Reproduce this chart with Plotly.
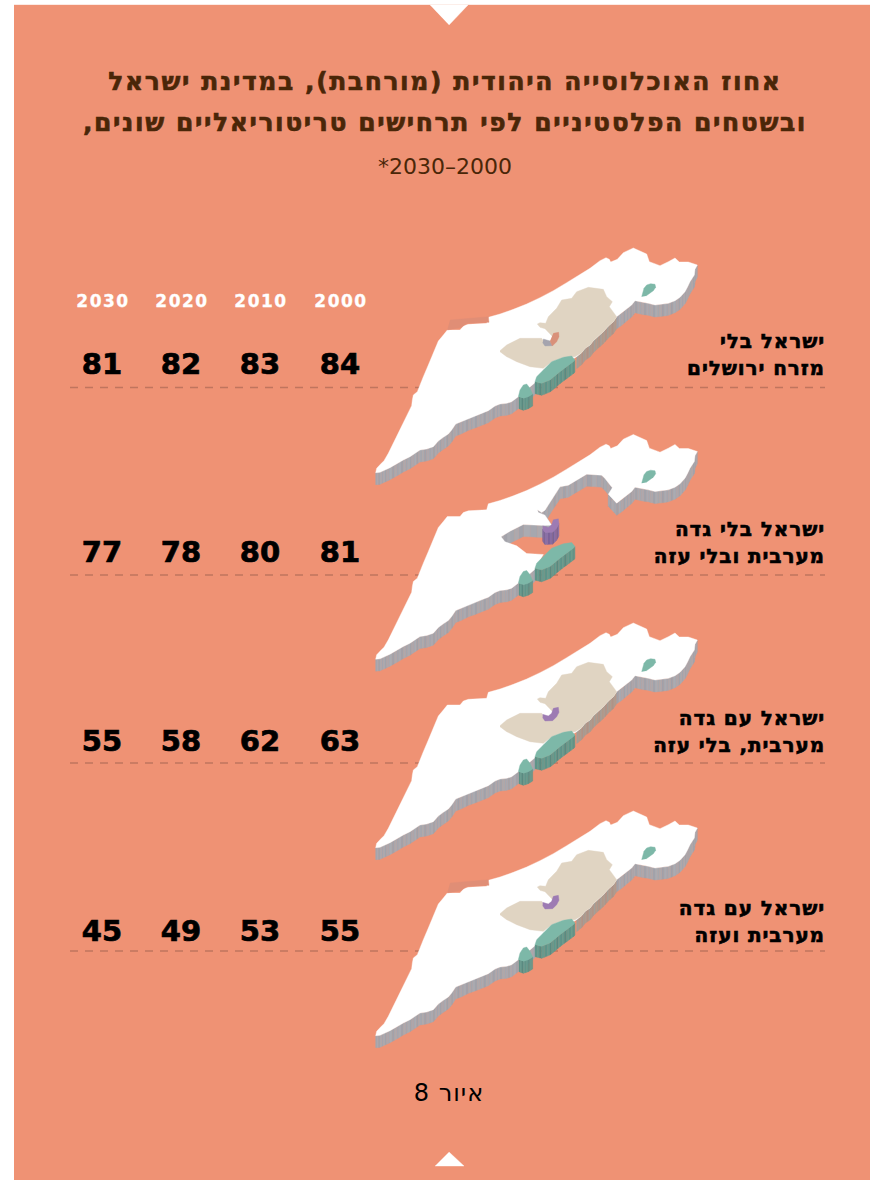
import plotly.graph_objects as go

# figures, columns run 2030 -> 2000 from the left
years = ["2030", "2020", "2010", "2000"]
no_east_jerusalem = [81, 82, 83, 84]
no_west_bank_gaza = [77, 78, 80, 81]
west_bank_no_gaza = [55, 58, 62, 63]
west_bank_and_gaza = [45, 49, 53, 55]

# scenario labels, two lines each
labels_1 = ["ישראל בלי", "ישראל בלי גדה", "ישראל עם גדה", "ישראל עם גדה"]
labels_2 = ["מזרח ירושלים", "מערבית ובלי עזה", "מערבית, בלי עזה", "מערבית ועזה"]

coast_south = [(47, 698), (60, 697), (75, 690), (90, 683), (110, 672), (130, 660), (150, 650), (165, 640),
               (180, 630), (200, 627), (220, 620), (235, 603), (250, 592), (265, 582), (275, 570), (287, 552),
               (305, 545), (325, 535), (345, 528), (365, 520), (385, 512), (405, 498), (420, 492), (440, 490),
               (455, 485), (475, 470), (500, 450), (525, 428)]
coast_west = [(47, 698), (50, 685), (62, 672), (72, 662), (85, 640), (100, 610), (115, 580), (130, 548),
              (145, 520), (155, 497), (157, 480), (160, 465), (172, 455), (178, 438), (190, 410), (205, 375),
              (220, 338), (235, 303), (250, 285), (262, 270), (300, 270), (310, 258), (325, 253), (380, 250),
              (385, 232), (420, 222), (460, 208), (500, 192), (540, 173), (580, 152), (620, 128), (650, 110),
              (690, 85), (720, 62), (738, 53), (748, 58), (752, 66), (772, 58), (790, 38), (820, 24),
              (835, 30), (860, 42), (868, 65), (900, 77), (925, 65), (945, 54), (958, 66), (985, 66), (1012, 75)]
border_north = [(1012, 75), (1005, 88), (1003, 105), (990, 125), (983, 140), (975, 155), (960, 172), (945, 182),
                (925, 190), (905, 193), (885, 195), (865, 190), (845, 187), (825, 182), (815, 195), (800, 207),
                (785, 220), (770, 230)]
border_wb_east = [(770, 230), (760, 245), (745, 258), (730, 275), (715, 288), (700, 302), (690, 315), (675, 325),
                  (665, 338), (650, 350)]
cut_north = [(770, 230), (745, 203), (757, 184), (735, 156), (725, 146), (680, 143), (650, 161), (625, 176),
             (600, 181), (580, 211), (555, 251), (545, 258), (532, 250)]
cut_finger = [(532, 250), (535, 258), (555, 266), (575, 296)]
cut_south = [(575, 296), (553, 297), (490, 294), (450, 314), (423, 331)]
cut_return = [(423, 331), (435, 346), (470, 358), (500, 381), (550, 384), (525, 428)]

west_bank = [(420, 332), (440, 315), (480, 295), (545, 295), (552, 305), (575, 302), (578, 290), (565, 278),
             (555, 266), (540, 262), (532, 252), (540, 248), (557, 250), (565, 230), (590, 205), (605, 180),
             (635, 175), (650, 155), (685, 142), (730, 148), (740, 170), (757, 185), (748, 200), (770, 230),
             (760, 245), (745, 258), (730, 275), (715, 288), (700, 302), (690, 315), (675, 325), (665, 338),
             (645, 350), (610, 352), (575, 365), (550, 385), (510, 380), (470, 365), (440, 350), (420, 335)]
gaza = [(270, 240), (385, 230), (387, 247), (320, 250), (305, 262), (262, 270)]
dead_sea = [(525, 425), (530, 410), (550, 390), (575, 365), (610, 352), (635, 348), (645, 360), (640, 365),
            (600, 395), (570, 420), (545, 430), (535, 428)]
dead_sea_edge = [(525, 425), (545, 430), (570, 420), (585, 408), (600, 395), (620, 380), (640, 365), (645, 360)]
south_lake = [(475, 470), (480, 450), (490, 435), (500, 432), (510, 445), (518, 462), (505, 470), (490, 475)]
south_lake_edge = [(477, 470), (490, 475), (505, 470), (518, 462)]
kinneret = [(845, 170), (848, 158), (852, 145), (860, 135), (872, 131), (885, 133), (887, 142), (880, 152),
            (870, 160), (858, 168)]
jerusalem = [(548, 298), (558, 300), (565, 303), (575, 295), (580, 280), (595, 277), (597, 292), (590, 305),
             (578, 317), (555, 318), (548, 308)]
jerusalem_edge = [(548, 308), (555, 318), (578, 317), (590, 305), (597, 292)]
jerusalem_west = [(550, 297), (570, 303), (577, 317), (555, 318), (548, 308)]
jerusalem_east = [(580, 280), (596, 277), (597, 290), (590, 305), (577, 318), (570, 303)]

GREY = ["#A6A7AE", "#ABABB1", "#A2A2AA", "#ADA9AD"]
WARM = ["#A89E95", "#B09A8C", "#A3A09A", "#AE9489"]
GREEN = ["#5F9488", "#679C8F", "#5A8B81", "#6A9A8E"]
PURPLE = ["#7D6399", "#866CA2", "#76608F", "#8A70A6"]

PANEL = "#EF9274"
LAND = "#FFFFFF"
TAN = "#E0D4C2"
TEAL = "#7DB8A8"
VIOLET = "#9D7BB3"
GAZA = "#E08E76"
DASH = "#C0755E"
BLACK = "#000000"
BROWN = "#4A2608"

column_x = [102, 181, 260, 340]
row_y = [364, 552, 741, 931]
line_y = [387.5, 575, 763, 951]
map_shift = [0, 186.5, 375, 563]
DEPTH = 36
STRIPES = 3
FONT = "DejaVu Sans"

fig = go.Figure()


def add_poly(points, color, shift):
    xs, ys = [], []
    for p in points:
        xs.append(None if p is None else 360 + p[0] / 3)
        ys.append(None if p is None else 240 + p[1] / 3 + shift)
    fig.add_trace(go.Scatter(
        x=xs, y=ys, mode="lines", fill="toself", fillcolor=color,
        line=dict(color=color, width=0.4),
        hoverinfo="skip", showlegend=False))


def add_wall(edge, colors, shift):
    # side of the relief: thin upright strips under the outline, shaded in turn
    groups = [[] for _ in colors]
    n = 0
    for a, b in zip(edge, edge[1:]):
        for k in range(STRIPES):
            t0, t1 = k / STRIPES, (k + 1) / STRIPES
            p0 = (a[0] + (b[0] - a[0]) * t0, a[1] + (b[1] - a[1]) * t0)
            p1 = (a[0] + (b[0] - a[0]) * t1, a[1] + (b[1] - a[1]) * t1)
            groups[n % len(colors)] += [p0, p1, (p1[0], p1[1] + DEPTH), (p0[0], p0[1] + DEPTH), p0, None]
            n += 1
    for color, group in zip(colors, groups):
        if group:
            add_poly(group[:-1], color, shift)


def add_text(x, y, text, size, color, bold=False, position="middle center"):
    fig.add_trace(go.Scatter(
        x=[x], y=[y], mode="text", text=[text],
        textposition=position,
        textfont=dict(family=FONT, size=size, color=color, weight=700 if bold else 400),
        hoverinfo="skip", showlegend=False))


def add_map(kind, shift):
    if kind == "cut":
        for part in [cut_north, cut_finger, cut_south]:
            add_wall(part, GREY, shift)
    else:
        add_wall(border_wb_east, WARM, shift)
    add_wall(coast_south, GREY, shift)
    add_wall(border_north, GREY, shift)

    land = coast_west + border_north[1:]
    if kind == "cut":
        land += cut_north[1:] + cut_finger[1:] + cut_south[1:] + cut_return[1:]
    else:
        land += border_wb_east[1:] + [(525, 428)]
    land += coast_south[::-1][1:]
    add_poly(land, LAND, shift)

    if kind != "cut":
        add_poly(west_bank, TAN, shift)
    if kind in ("jerusalem", "all"):
        add_poly(gaza, GAZA, shift)

    add_wall(dead_sea_edge, GREEN, shift)
    add_poly(dead_sea, TEAL, shift)
    add_wall(south_lake_edge, GREEN, shift)
    add_poly(south_lake, TEAL, shift)
    add_poly(kinneret, TEAL, shift)

    if kind == "jerusalem":
        add_poly(jerusalem_west, "#A5A4AE", shift)
        add_poly(jerusalem_east, "#D9917A", shift)
    elif kind == "cut":
        add_wall(jerusalem_edge, PURPLE, shift)
        add_poly(jerusalem, VIOLET, shift)
    else:
        add_poly(jerusalem, VIOLET, shift)


# panel and the two white notches
add_poly([(-1038, -705), (1530, -705), (1530, 2820), (-1038, 2820)], PANEL, 0)
add_poly([(210, -705), (324, -705), (267, -645)], LAND, 0)
add_poly([(225, 2778), (312, 2778), (267, 2736)], LAND, 0)

rows = [no_east_jerusalem, no_west_bank_gaza, west_bank_no_gaza, west_bank_and_gaza]
kinds = ["jerusalem", "cut", "plain", "all"]

for y in line_y:
    fig.add_trace(go.Scatter(x=[70, 825], y=[y, y], mode="lines",
                             line=dict(color=DASH, width=1.5, dash="8px,7px"),
                             hoverinfo="skip", showlegend=False))

for kind, shift in zip(kinds, map_shift):
    add_map(kind, shift)

add_text(445, 84, "אחוז האוכלוסייה היהודית (מורחבת), במדינת ישראל", 25, BROWN, True)
add_text(445, 125, "ובשטחים הפלסטיניים לפי תרחישים טריטוריאליים שונים,\u200f", 25, BROWN, True)
add_text(445, 168, "\u200f2000–2030*\u200f", 22, BROWN)
add_text(449, 1095, "איור 8\u200f", 24, BLACK)

for x, year in zip(column_x, years):
    add_text(x + 1, 303, year, 17, "#FFFFFF", True)

for i, row in enumerate(rows):
    for x, value in zip(column_x, row):
        add_text(x, row_y[i] + 3, str(value), 29, BLACK, True)
    add_text(825, row_y[i] - 21, labels_1[i], 20, BLACK, True, "middle left")
    add_text(825, row_y[i] + 6, labels_2[i], 20, BLACK, True, "middle left")

fig.update_layout(
    width=870, height=1180,
    margin=dict(l=0, r=0, t=0, b=0),
    paper_bgcolor="#FFFFFF", plot_bgcolor="#FFFFFF",
    xaxis=dict(range=[0, 870], visible=False, fixedrange=True),
    yaxis=dict(range=[1180, 0], visible=False, fixedrange=True),
    showlegend=False,
)

# tracking and a heavier stroke can only be set on the rendered svg text
spacing = """
document.body.style.margin='0';document.body.style.overflow='hidden';
var track={25:'1.6px',17:'1.5px',20:'0.9px',24:'1px'};
var heavy={25:0.6,29:0.7,20:0.6,17:0.3};
document.querySelectorAll('.textpoint text').forEach(function(t){
  var s=parseFloat(t.style.fontSize);
  if(track[s]) t.style.letterSpacing=track[s];
  if(heavy[s]){t.style.stroke=t.style.fill;t.style.strokeWidth=heavy[s]+'px';}
});
"""

fig.write_html("out.html", post_script=spacing, config=dict(displayModeBar=False))
